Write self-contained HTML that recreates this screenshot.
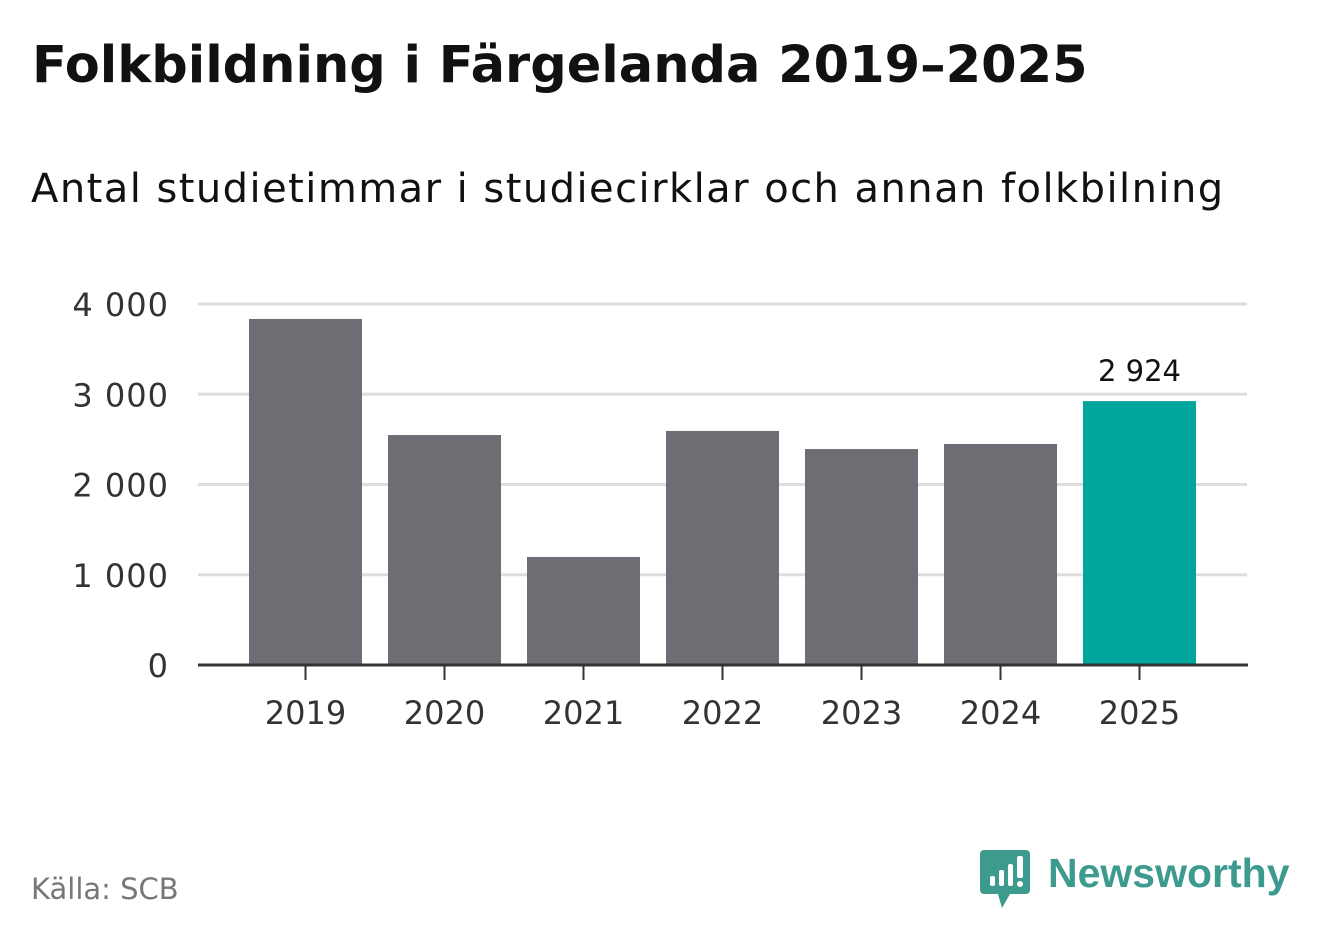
<!DOCTYPE html>
<html><head><meta charset="utf-8">
<style>
body{margin:0;width:1322px;height:939px;background:#fff;font-family:"DejaVu Sans","Liberation Sans",sans-serif;position:relative;overflow:hidden}
.t{position:absolute;white-space:nowrap}
</style></head><body>
<div class="t" style="left:32px;top:36px;font-size:51px;font-weight:bold;color:#111">Folkbildning i Färgelanda 2019–2025</div>
<div class="t" style="left:31px;top:166px;font-size:40px;color:#111;letter-spacing:1.45px">Antal studietimmar i studiecirklar och annan folkbilning</div>
<svg id="c" width="1322" height="939" style="position:absolute;left:0;top:0"></svg>
<div class="t" style="left:31px;top:872px;font-size:29px;color:#777">Källa: SCB</div>
<svg style="position:absolute;left:980px;top:850px" width="52" height="60">
<path d="M4 0 H46 a4 4 0 0 1 4 4 V40 a4 4 0 0 1 -4 4 H30 L22 58 L18 44 H4 a4 4 0 0 1 -4 -4 V4 a4 4 0 0 1 4 -4Z" fill="#3d9a8e"/>
<rect x="10" y="26" width="5" height="10" rx="2" fill="#fff"/><rect x="19" y="20" width="5" height="16" rx="2" fill="#fff"/><rect x="28" y="14" width="5" height="22" rx="2" fill="#fff"/><rect x="37" y="6" width="6" height="22" rx="2" fill="#fff"/><circle cx="40" cy="34" r="3" fill="#fff"/>
</svg>
<div class="t" style="left:1048px;top:850px;font-size:41px;font-weight:bold;color:#3d9a8e;font-family:'Liberation Sans',sans-serif">Newsworthy</div>
<script>
const categories=["2019","2020","2021","2022","2023","2024","2025"];
const values=[3834,2548,1197,2593,2393,2449,2924];
const yTicks=[0,1000,2000,3000,4000];
const yTickLabels=["0","1 000","2 000","3 000","4 000"];
const highlightLabel="2 924";
const svg=document.getElementById('c');const NS="http://www.w3.org/2000/svg";
const F='DejaVu Sans, Liberation Sans, sans-serif';
const y0=665,yScale=v=>y0-v*(361/4000);
const xC=i=>305.5+i*139,bw=113;
function mk(t,a){const e=document.createElementNS(NS,t);for(const k in a)e.setAttribute(k,a[k]);svg.appendChild(e);return e;}
yTicks.forEach((v,i)=>{
 if(v>0){const g=mk('line',{x1:198,x2:1247,y1:yScale(v),y2:yScale(v),stroke:'#ddd','stroke-width':3});
 
 }
 const t=mk('text',{x:169,y:yScale(v)+12,'text-anchor':'end','font-size':32,fill:'#333','font-family':F,'letter-spacing':1});t.textContent=yTickLabels[i];
 
 
});
values.forEach((v,i)=>{
 const last=i===values.length-1;
 const r=mk('rect',{x:xC(i)-bw/2,y:yScale(v),width:bw,height:y0-yScale(v),fill:last?'#00a59b':'#6e6d74'});
 
 
 const tk=mk('line',{x1:xC(i),x2:xC(i),y1:y0,y2:y0+15,stroke:'#333','stroke-width':2});
 
 
 const t=mk('text',{x:xC(i),y:724,'text-anchor':'middle','font-size':32,fill:'#333','font-family':F});t.textContent=categories[i];
 
 
 if(last){const l=mk('text',{x:xC(i),y:yScale(v)-20,'text-anchor':'middle','font-size':29,fill:'#111','font-family':F});l.textContent=highlightLabel;
 
 }
});
const ax=mk('line',{x1:198,x2:1248,y1:y0,y2:y0,stroke:'#333','stroke-width':3});


</script>
</body></html>
